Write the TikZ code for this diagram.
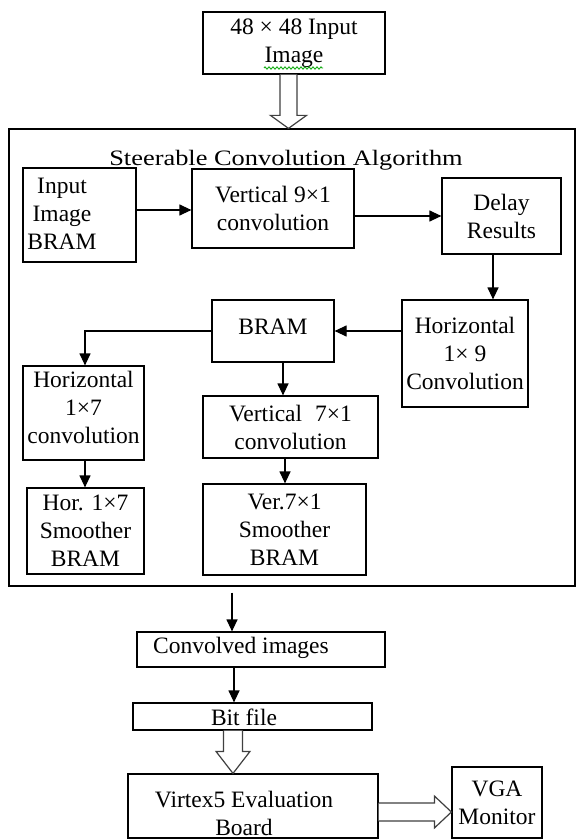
\documentclass[tikz,border=0pt]{standalone}
\usepackage{graphicx}
\usepackage{fontspec}
\setmainfont{Liberation Serif}
\usetikzlibrary{arrows.meta,decorations.pathmorphing}
\begin{document}
\begin{tikzpicture}[x=1pt,y=-1pt,
  box/.style={draw,line width=1.2pt,inner sep=0pt,align=center,font=\fontsize{23.5}{28}\selectfont},
  txt/.style={inner sep=0pt,align=center,font=\fontsize{23.5}{28}\selectfont},
  arr/.style={line width=1.2pt,-{Triangle[length=12pt,width=11pt]}},
  hollow/.style={draw=black!75,line width=1.2pt,fill=white,line join=miter}]
\useasboundingbox (0,0) rectangle (576,840);
\fill[white] (0,0) rectangle (576,840);

\node[box,minimum width=566pt,minimum height=457pt] (big) at (292,357.5) {};
\node[box,minimum width=182pt,minimum height=62pt] (top) at (294,43) {48 × 48 Input\\Image};
\draw[green!65!black,line width=0.8pt,decorate,decoration={zigzag,amplitude=1.2pt,segment length=4pt}]
  ([xshift=-30pt,yshift=-25pt]top.center) -- ([xshift=29pt,yshift=-25pt]top.center);

\node[txt,anchor=base] (title) at (286,165) {\fontsize{22}{26}\selectfont\scalebox{1.2}[1]{Steerable Convolution Algorithm}};

\node[box,minimum width=113pt,minimum height=94pt] (inbram) at (79.5,215) {};
\node[txt] (inbramt) at (62,214) {Input\\Image\\BRAM};
\node[box,minimum width=162pt,minimum height=79pt] (vert9) at (273,208.5) {Vertical 9×1\\convolution};
\node[box,minimum width=119pt,minimum height=76pt] (delay) at (501.5,216) {Delay\\Results};
\node[box,minimum width=126pt,minimum height=107pt] (h19) at (465,353.5) {Horizontal\\1× 9\\Convolution};
\node[box,minimum width=122pt,minimum height=62pt] (bram) at (273,331) {};
\node[txt] (bramt) at (273,327) {BRAM};
\node[box,minimum width=121pt,minimum height=94pt] (h17) at (83.5,413) {};
\node[txt] (h17t) at (83.5,407) {Horizontal\\1×7\\convolution};
\node[box,minimum width=117pt,minimum height=86pt] (hsm) at (85.5,531) {Hor. 1×7\\Smoother\\BRAM};
\node[box,minimum width=175pt,minimum height=62pt] (v71) at (290.5,427) {Vertical\hspace{13pt}7×1\\convolution};
\node[box,minimum width=163pt,minimum height=91pt] (vsm) at (284.5,529.5) {Ver.7×1\\Smoother\\BRAM};

\node[box,minimum width=248pt,minimum height=35pt] (conv) at (261,649.5) {};
\node[txt,anchor=west] (convt) at (153,648) {Convolved images};
\node[box,minimum width=239pt,minimum height=27pt] (bit) at (252.5,716.5) {};
\node[txt] (bitt) at (244,717) {Bit file};
\node[box,minimum width=250pt,minimum height=64pt] (virtex) at (253,806) {};
\node[txt] (virtext) at (244,813) {Virtex5 Evaluation\\Board};
\node[box,minimum width=90pt,minimum height=71pt] (vga) at (497,802.5) {VGA\\Monitor};

% arrows
\coordinate (a1) at ([yshift=5pt]inbram.east);
\draw[arr] (a1) -- (a1 -| vert9.west);
\draw[arr] (delay.west -| vert9.east) -- (delay.west);
\coordinate (a3) at ([xshift=-8.5pt]delay.south);
\draw[arr] (a3) -- (a3 |- h19.north);
\draw[arr] (bram.east -| h19.west) -- (bram.east);
\draw[arr] (bram.west) -| ([xshift=1.5pt]h17.north);
\coordinate (a5) at ([xshift=1.5pt]h17.south);
\draw[arr] (a5) -- (a5 |- hsm.north);
\coordinate (a6) at ([xshift=10pt]bram.south);
\draw[arr] (a6) -- (a6 |- v71.north);
\coordinate (a7) at ([xshift=-5.5pt]v71.south);
\draw[arr] (a7) -- (a7 |- vsm.north);
\coordinate (a8) at ([xshift=-60pt,yshift=-6pt]big.south);
\draw[arr] (a8) -- (a8 |- conv.north);
\coordinate (a9) at ([xshift=-27pt]conv.south);
\draw[arr] (a9) -- (a9 |- bit.north);

% hollow arrows
\coordinate (h1) at ([xshift=-5.5pt]top.south);
\coordinate (tip1) at (h1 |- big.north);
\draw[hollow] ([xshift=-8.5pt]h1) |- ([xshift=-18pt,yshift=13pt]tip1) -- (tip1)
  -- ([xshift=18pt,yshift=13pt]tip1) -| ([xshift=8.5pt]h1);

\coordinate (h2) at ([xshift=-19.5pt]bit.south);
\coordinate (tip2) at (h2 |- virtex.north);
\draw[hollow] ([xshift=-9.5pt]h2) |- ([xshift=-17pt,yshift=22pt]tip2) -- (tip2)
  -- ([xshift=17pt,yshift=22pt]tip2) -| ([xshift=9.5pt]h2);

\coordinate (h3) at ([yshift=-6pt]virtex.east);
\coordinate (tip3) at (h3 -| vga.west);
\draw[hollow] ([yshift=9pt]h3) -| ([xshift=-17pt,yshift=16pt]tip3) -- (tip3)
  -- ([xshift=-17pt,yshift=-16pt]tip3) |- ([yshift=-9pt]h3);
\end{tikzpicture}
\end{document}
